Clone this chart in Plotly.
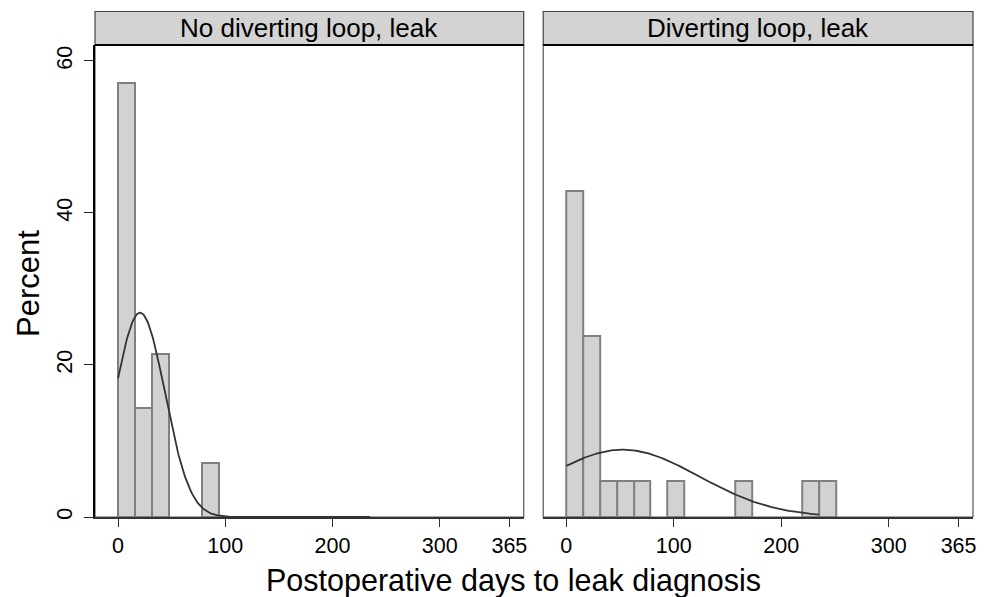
import numpy as np
import plotly.graph_objects as go

# ---- data ----
bin_width = 15.7  # days per histogram bin
left_bins = [0, 1, 2, 5]
left_percent = [57.14, 14.29, 21.43, 7.14]
right_bins = [0, 1, 2, 3, 4, 6, 10, 14, 15]
right_percent = [42.86, 23.81, 4.76, 4.76, 4.76, 4.76, 4.76, 4.76, 4.76]

left_mean, left_sd = 20.5, 23.3
right_mean, right_sd = 52.5, 70.7
curve_range = (0, 235)

panel_titles = ["No diverting loop, leak", "Diverting loop, leak"]
x_ticks = [0, 100, 200, 300, 365]
y_ticks = [0, 20, 40, 60]
x_title = "Postoperative days to leak diagnosis"
y_title = "Percent"

FONT = "Liberation Sans, Arial, Helvetica, sans-serif"
BAR_FILL = "#d2d2d2"
BAR_LINE = "#808080"
CURVE = "#333333"


def normal_curve(mean, sd):
    xs = np.linspace(curve_range[0], curve_range[1], 300)
    ys = 100 * bin_width * np.exp(-((xs - mean) ** 2) / (2 * sd ** 2)) / (sd * np.sqrt(2 * np.pi))
    return xs, ys


fig = go.Figure()

for bins, pct, mean, sd, xa, ya in [
    (left_bins, left_percent, left_mean, left_sd, "x", "y"),
    (right_bins, right_percent, right_mean, right_sd, "x2", "y2"),
]:
    centers = [(b + 0.5) * bin_width for b in bins]
    fig.add_trace(go.Bar(
        x=centers, y=pct, width=[bin_width] * len(centers),
        marker=dict(color=BAR_FILL, line=dict(color=BAR_LINE, width=2)),
        xaxis=xa, yaxis=ya, showlegend=False, hoverinfo="skip",
    ))
    cx, cy = normal_curve(mean, sd)
    fig.add_trace(go.Scatter(
        x=cx, y=cy, mode="lines", line=dict(color=CURVE, width=1.8),
        xaxis=xa, yaxis=ya, showlegend=False, hoverinfo="skip",
    ))

plot_h = 472
strip_h = 33.5

xcommon = dict(
    range=[-21.5, 378.4], tickvals=x_ticks, ticks="outside", ticklen=8,
    tickwidth=1.2, tickcolor="#333", showline=True, linecolor="#333",
    linewidth=1.5, showgrid=False, zeroline=False,
    tickfont=dict(size=21.5, color="black", family=FONT),
)
fig.update_layout(
    width=989, height=597,
    margin=dict(l=95, r=16, t=45, b=80),
    paper_bgcolor="white", plot_bgcolor="white",
    bargap=0, barmode="overlay",
    font=dict(family=FONT, color="black"),
    xaxis=dict(domain=[0, 0.4883], anchor="y", **xcommon),
    xaxis2=dict(domain=[0.5105, 1], anchor="y2", **xcommon),
    yaxis=dict(
        range=[0, 62.1], tickvals=y_ticks, tickangle=-90, ticks="outside",
        ticklen=9, tickwidth=1.2, tickcolor="#222", showline=True,
        linecolor="black", linewidth=2, showgrid=False, zeroline=False,
        ticklabelstandoff=3,
        tickfont=dict(size=21.5, color="black", family=FONT), anchor="x",
    ),
    yaxis2=dict(
        range=[0, 62.1], matches="y", anchor="x2", showticklabels=False,
        ticks="", showline=False, showgrid=False, zeroline=False,
    ),
)

shapes = []
annotations = []
for i, xd in enumerate(["x domain", "x2 domain"]):
    yd = "y domain" if i == 0 else "y2 domain"
    # plot region outline
    shapes.append(dict(type="rect", xref=xd, yref=yd, x0=0, x1=1, y0=0, y1=1,
                       line=dict(color="#555", width=1.2), layer="below"))
    # strip header
    shapes.append(dict(type="rect", xref=xd, yref="paper", x0=0, x1=1,
                       y0=1, y1=1 + strip_h / plot_h,
                       fillcolor="#d3d3d3", line=dict(color="#444", width=1.2)))
    shapes.append(dict(type="line", xref=xd, yref="paper", x0=0, x1=1,
                       y0=1, y1=1, line=dict(color="black", width=2.2)))
    annotations.append(dict(
        text=panel_titles[i], xref=xd, yref="paper", x=0.5,
        y=1 + strip_h / plot_h / 2, xanchor="center", yanchor="middle",
        showarrow=False, font=dict(size=26, color="black", family=FONT),
    ))

annotations.append(dict(
    text=x_title, xref="paper", yref="paper", x=(513 - 95) / 878,
    y=(517 - 580) / plot_h, xanchor="center", yanchor="middle",
    showarrow=False, font=dict(size=30.5, color="black", family=FONT),
))
annotations.append(dict(
    text=y_title, xref="paper", yref="paper", x=(28 - 95) / 878,
    y=(517 - 284) / plot_h, xanchor="center", yanchor="middle",
    textangle=-90, showarrow=False,
    font=dict(size=31, color="black", family=FONT),
))

fig.update_layout(shapes=shapes, annotations=annotations)
fig.write_html("out.html")
